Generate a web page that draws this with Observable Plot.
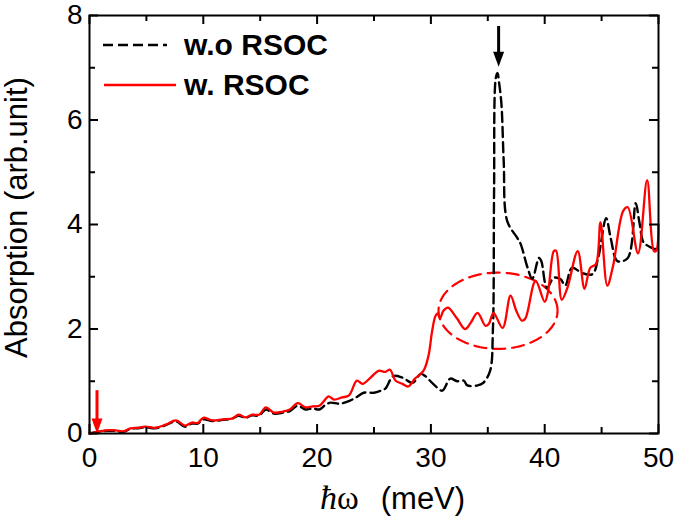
<!DOCTYPE html>
<html><head><meta charset="utf-8">
<script src="https://cdn.jsdelivr.net/npm/d3@7"></script>
<script src="https://cdn.jsdelivr.net/npm/@observablehq/plot@0.6"></script>
<style>
body{margin:0;background:#fff;}
#wrap{position:relative;width:675px;height:519px;font-family:"Liberation Sans",Arial,sans-serif;color:#000;}
.legtext{position:absolute;font-weight:bold;font-size:30px;line-height:1;white-space:nowrap;}
#xlabel{position:absolute;font-size:31px;line-height:32px;height:34px;white-space:nowrap;}
#xlabel span{line-height:32px;}
svg.legsvg{position:absolute;left:0;top:0;}
</style></head><body><div id="wrap"></div>
<script>
// ---- data ----
const redX = [0,0.5,1.4,2.3,3.0,3.6,4.3,4.9,5.8,6.7,7.6,8.4,9.0,9.5,10.0,10.8,11.7,12.6,13.1,13.7,14.3,14.9,15.5,16.2,17.0,17.6,18.3,19.0,19.6,20.2,20.6,21.0,21.5,22.2,22.8,23.5,24.0,24.7,25.4,26.0,26.4,26.9,27.5,28.0,28.6,29.1,29.4,29.8,30.1,30.4,30.6,30.8,31.1,31.5,32.3,33.0,33.5,34.1,34.8,35.1,35.5,36.3,37.0,37.5,38.0,38.3,39.2,40.0,40.3,40.8,41.0,41.5,42.0,42.9,43.5,44.0,44.5,44.9,45.5,46.0,46.9,47.3,48.2,49.0,49.6,49.8,50.0];
const redY = [0,0.02,0.06,0.06,0.04,0.10,0.11,0.13,0.11,0.17,0.25,0.15,0.21,0.20,0.30,0.25,0.27,0.29,0.36,0.31,0.36,0.36,0.50,0.40,0.42,0.46,0.58,0.50,0.52,0.53,0.62,0.71,0.65,0.69,0.73,1.01,0.95,1.07,1.20,1.18,1.22,1.01,0.95,0.90,1.05,1.14,1.22,1.50,1.95,2.25,2.30,2.20,2.35,2.41,2.20,2.00,2.12,2.31,2.06,2.10,2.31,2.02,2.64,2.35,2.16,2.20,2.92,2.52,2.72,3.49,3.50,2.56,2.79,3.49,2.77,3.17,3.24,4.04,2.83,3.20,4.26,4.33,3.45,4.85,3.49,3.50,4.00];
const blackX = [0,1.4,2.3,3.0,3.6,4.3,4.9,5.8,6.7,7.6,8.4,9.0,9.5,10.0,10.8,11.7,12.6,13.1,13.7,14.3,14.9,15.5,16.2,17.0,17.6,18.3,19.0,19.6,20.2,20.8,21.2,22.0,22.9,23.5,24.1,25.0,25.6,26.0,26.7,27.5,28.4,29.1,29.5,30.2,31.0,31.7,32.3,32.9,33.2,34.1,34.6,35.2,35.45,35.55,35.7,35.85,36.0,36.2,36.4,36.7,37.6,37.9,38.5,38.9,39.5,39.7,40.2,40.8,41.4,41.8,42.4,43.3,44.2,44.7,45.4,45.8,46.4,47.3,48.0,48.3,48.7,49.1,49.7,50.0];
const blackY = [0,0.05,0.05,0.03,0.09,0.10,0.12,0.10,0.16,0.23,0.13,0.19,0.19,0.27,0.24,0.26,0.29,0.34,0.30,0.35,0.34,0.46,0.38,0.40,0.43,0.53,0.46,0.48,0.46,0.56,0.59,0.57,0.63,0.70,0.78,0.78,0.82,0.86,1.10,1.07,0.97,1.14,1.10,0.95,0.82,1.05,1.00,1.01,0.92,0.92,0.97,1.20,2.00,4.60,6.80,6.90,6.70,6.30,5.20,4.07,3.74,3.62,3.17,2.96,3.36,3.30,2.79,2.98,2.95,2.83,3.17,3.07,3.05,3.36,4.12,3.74,3.30,3.36,4.41,4.07,3.65,3.59,3.53,3.55];
const seriesNames = ["w.o RSOC", "w. RSOC"];
const xMajor = [0,10,20,30,40,50];
const xMinor = [5,15,25,35,45];
const yMajor = [0,2,4,6,8];
const yMinor = [1,3,5,7];
const xTitle = "(meV)";
const yTitle = "Absorption (arb.unit)";
// annotation: dashed ellipse (center, radii in data units)
const ellipseCenter = [35.9, 2.35];
const ellipseRadii = [5.23, 0.73];
// annotation arrows: x, top, tip
const arrows = [
  {x: 0.66, top: 0.82, tip: 0, color: "#ff0000"},
  {x: 35.95, top: 7.79, tip: 7.02, color: "#000000"}
];

// ---- build tables ----
const redData = redX.map((x,i)=>({x, y: redY[i]}));
const blackData = blackX.map((x,i)=>({x, y: blackY[i]}));
const ellipse = d3.range(0, 361, 3).map(a => {
  const t = a * Math.PI / 180;
  return {x: ellipseCenter[0] + ellipseRadii[0]*Math.cos(t), y: ellipseCenter[1] + ellipseRadii[1]*Math.sin(t)};
});

const W = 675, H = 519, mL = 89, mR = 17, mT = 15, mB = 86;
const fw = W - mL - mR, fh = H - mT - mB;
const majorLen = 9, minorLen = 6;

const headSymbol = {
  draw(ctx) { ctx.moveTo(0, 0); ctx.lineTo(-5.5, -15); ctx.lineTo(5.5, -15); ctx.closePath(); }
};

const tickStyle = {stroke: "black", strokeWidth: 2};

const plot = Plot.plot({
  width: W, height: H,
  marginLeft: mL, marginRight: mR, marginTop: mT, marginBottom: mB,
  style: {fontFamily: "'Liberation Sans', Arial, sans-serif", color: "black", background: "white", overflow: "visible"},
  x: {domain: [0, 50]},
  y: {domain: [0, 8]},
  marks: [
    Plot.line(ellipse, {x: "x", y: "y", stroke: "#ff0000", strokeWidth: 2.2, strokeDasharray: "12,7"}),
    Plot.line(blackData, {x: "x", y: "y", stroke: "black", strokeWidth: 2.4, strokeDasharray: "10,5", curve: "catmull-rom"}),
    Plot.line(redData, {x: "x", y: "y", stroke: "#ff0000", strokeWidth: 2.3, curve: "catmull-rom"}),
    // arrows
    Plot.ruleX(arrows, {x: "x", y1: "top", y2: "tip", stroke: "color", strokeWidth: 3, insetBottom: 8}),
    Plot.dot(arrows, {x: "x", y: "tip", symbol: headSymbol, fill: "color", stroke: "none", r: 5}),
    // inward ticks on all four sides
    Plot.tickX(xMajor, {x: d => d, insetTop: fh - majorLen, ...tickStyle}),
    Plot.tickX(xMajor, {x: d => d, insetBottom: fh - majorLen, ...tickStyle}),
    Plot.tickX(xMinor, {x: d => d, insetTop: fh - minorLen, ...tickStyle}),
    Plot.tickX(xMinor, {x: d => d, insetBottom: fh - minorLen, ...tickStyle}),
    Plot.tickY(yMajor, {y: d => d, insetRight: fw - majorLen, ...tickStyle}),
    Plot.tickY(yMajor, {y: d => d, insetLeft: fw - majorLen, ...tickStyle}),
    Plot.tickY(yMinor, {y: d => d, insetRight: fw - minorLen, ...tickStyle}),
    Plot.tickY(yMinor, {y: d => d, insetLeft: fw - minorLen, ...tickStyle}),
    Plot.frame({stroke: "black", strokeWidth: 2}),
    Plot.axisX({ticks: xMajor, tickSize: 0, tickPadding: 14, fontSize: 28, label: null}),
    Plot.axisY({ticks: yMajor, tickSize: 0, tickPadding: 7, fontSize: 28, label: null}),
    Plot.text([yTitle], {frameAnchor: "left", dx: -72, dy: -7, rotate: -90, textAnchor: "middle", lineAnchor: "middle", fontSize: 31, fill: "black"})
  ]
});

const wrap = document.getElementById("wrap");
wrap.appendChild(plot);

// legend (inside the frame, top-left)
const ns = "http://www.w3.org/2000/svg";
const lsvg = document.createElementNS(ns, "svg");
lsvg.setAttribute("class", "legsvg");
lsvg.setAttribute("width", W); lsvg.setAttribute("height", 120);
lsvg.innerHTML = '<line x1="103" y1="45" x2="167" y2="45" stroke="black" stroke-width="2.4" stroke-dasharray="10,5"/>' +
                 '<line x1="104" y1="85" x2="176" y2="85" stroke="#ff0000" stroke-width="2.3"/>';
wrap.appendChild(lsvg);
seriesNames.forEach((name, i) => {
  const d = document.createElement("div");
  d.className = "legtext";
  d.textContent = name;
  d.style.left = "184px";
  d.style.top = (30 + i*40) + "px";
  wrap.appendChild(d);
});

// x axis title
const xl = document.createElement("div");
xl.id = "xlabel";
xl.innerHTML = '<span style="font-family:\'Liberation Serif\',serif;font-style:italic;font-size:34px">ħ</span><span style="font-family:\'Liberation Serif\',serif;font-size:33px">ω</span><span style="margin-left:22px">' + xTitle + '</span>';
xl.style.left = "320px";
xl.style.top = "482px";
wrap.appendChild(xl);
</script>
</body></html>
